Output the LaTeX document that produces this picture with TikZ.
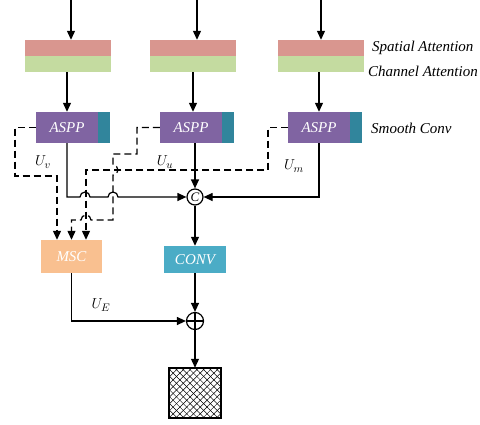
\documentclass[tikz,border=0pt]{standalone}
\usepackage{fontspec}
\setmainfont{Liberation Serif}
\usetikzlibrary{arrows.meta,patterns.meta,calc}
\definecolor{spatc}{HTML}{D9968F}
\definecolor{chanc}{HTML}{C4DBA0}
\definecolor{asppc}{HTML}{8064A2}
\definecolor{tealc}{HTML}{31859C}
\definecolor{mscc}{HTML}{F9C090}
\definecolor{convc}{HTML}{4BACC6}
\begin{document}
\begin{tikzpicture}[x=1pt,y=-1pt,
  font=\fontsize{15}{17}\selectfont,
  attbox/.style={inner sep=0pt, minimum width=86pt, minimum height=16pt},
  purp/.style={fill=asppc, inner sep=0pt, minimum width=62pt, minimum height=31pt, text=white, font=\fontsize{15}{17}\selectfont\itshape},
  tealbox/.style={fill=tealc, inner sep=0pt, minimum width=12pt, minimum height=31pt},
  opbox/.style={inner sep=0pt, text=white, font=\fontsize{15}{17}\selectfont\itshape},
  side/.style={anchor=west, inner sep=0pt, font=\fontsize{15}{17}\selectfont\itshape},
  arr/.style={-{Triangle[length=9pt,width=8pt]}, line width=1.2pt},
  dsh/.style={arr, dash pattern=on 7pt off 4pt},
  opcirc/.style={circle, draw, line width=1.2pt, minimum size=16pt, inner sep=0pt}]
\useasboundingbox (0,0) rectangle (480,424);

% attention boxes
\node[attbox, fill=spatc] (p1) at (67.5,48) {};
\node[attbox, fill=chanc] (g1) at (67.5,64) {};
\node[attbox, fill=spatc] (p2) at (193,48) {};
\node[attbox, fill=chanc] (g2) at (193,64) {};
\node[attbox, fill=spatc] (p3) at (321,48) {};
\node[attbox, fill=chanc] (g3) at (321,64) {};
\node[side] (sa) at (372,48) {Spatial Attention};
\node[side] (ca) at (368,71) {Channel Attention};

% ASPP boxes
\node[purp] (a1) at (67,127.5) {ASPP};
\node[tealbox] (t1) at (104,127.5) {};
\node[purp] (a2) at (191,127.5) {ASPP};
\node[tealbox] (t2) at (228,127.5) {};
\node[purp] (a3) at (319,127.5) {ASPP};
\node[tealbox] (t3) at (356,127.5) {};
\node[side] (sc) at (371,128) {Smooth Conv};

% operators
\node[opcirc] (C) at (195,197) {\fontsize{13}{13}\selectfont\itshape C};
\node[opbox, fill=mscc, minimum width=61pt, minimum height=33pt] (msc) at (71.5,256.5) {MSC};
\node[opbox, fill=convc, minimum width=62pt, minimum height=27pt] (conv) at (195,259.5) {CONV};
\node[opcirc, minimum size=17pt,
  path picture={\draw[line width=1.2pt] (path picture bounding box.north) -- (path picture bounding box.south)
                (path picture bounding box.west) -- (path picture bounding box.east);}] (plus) at (195,321) {};
\node[draw, line width=1.2pt, minimum width=52pt, minimum height=50pt, inner sep=0pt,
  preaction={pattern={Lines[angle=45,distance=4.8pt,line width=0.5pt]}},
  pattern={Lines[angle=-45,distance=4.8pt,line width=0.5pt]}] (out) at (195,393) {};

% top inputs
\coordinate (i1) at (71,0);
\coordinate (i2) at (197,0);
\coordinate (i3) at (321,0);
\draw[arr] (i1) -- (i1 |- p1.north);
\draw[arr] (i2) -- (i2 |- p2.north);
\draw[arr] (i3) -- (i3 |- p3.north);

% attention -> ASPP
\draw[arr] (a1.north |- g1.south) -- (a1.north);
\draw[arr] (g2.south) -- (g2.south |- a2.north);
\draw[arr] (a3.north |- g3.south) -- (a3.north);

% ASPP -> concat
\draw[arr] (a1.south) -- (67,197) -- (80,197) arc[start angle=180,end angle=360,radius=5]
  -- (108,197) arc[start angle=180,end angle=360,radius=5] -- (C.west);
\draw[arr] (a2.south -| C) -- (C.north);
\draw[arr] (a3.south) |- (C.east);

% dashed paths to MSC
\draw[dsh] (a1.west) -| (15,176) -| ($(msc.north)+(-14.5,0)$);
\draw[dsh] (a3.west) -| (268,170) -| ($(msc.north)+(14.5,0)$);
\draw[dsh] (a2.west) -| (137,154) -- (113,154) -- (113,165)
  arc[start angle=-90,end angle=90,radius=5] -- (113,220) -- (91,220)
  arc[start angle=0,end angle=-180,radius=5] -- (71.5,220) -- (msc.north);

% labels
\node (uv) at (43,162) {$U_v$};
\node (uu) at (165,162) {$U_u$};
\node (um) at (294,166) {$U_m$};
\node (ue) at (101,305) {$U_E$};

% lower part
\draw[arr] (C.south) -- (conv.north);
\draw[arr] (conv.south) -- (plus.north);
\draw[arr] (msc.south) |- (plus.west);
\draw[arr] (plus.south) -- (out.north);
\end{tikzpicture}
\end{document}
